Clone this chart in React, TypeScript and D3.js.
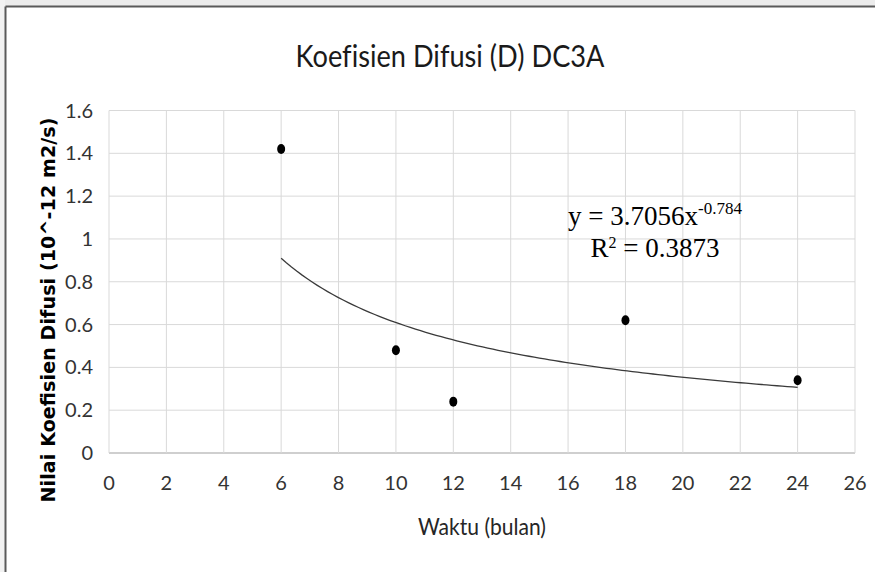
import React from 'react';
import * as d3 from 'd3';

// data
const waktu = [6, 10, 12, 18, 24];
const koefisien = [1.42, 0.48, 0.24, 0.62, 0.34];
const xTicks = [0, 2, 4, 6, 8, 10, 12, 14, 16, 18, 20, 22, 24, 26];
const yTicks = [0, 0.2, 0.4, 0.6, 0.8, 1, 1.2, 1.4, 1.6];
// power trendline y = a * x^b
const trendA = 3.7056;
const trendB = -0.784;
const trendR2 = 0.3873;

const W = 875;
const H = 572;
const plot = { left: 109, right: 855, top: 110.5, bottom: 453 };

const labelFont = 'Lato, "Open Sans", sans-serif';
const serifFont = '"Liberation Serif", "Times New Roman", serif';

const App = () => {
    const x = d3.scaleLinear().domain([0, 26]).range([plot.left, plot.right]);
    const y = d3.scaleLinear().domain([0, 1.6]).range([plot.bottom, plot.top]);

    // trendline from first to last x value
    const [x0, x1] = d3.extent(waktu) as [number, number];
    const trendPts = d3.range(0, 101).map(i => {
        const xv = x0 + ((x1 - x0) * i) / 100;
        return [xv, trendA * Math.pow(xv, trendB)] as [number, number];
    });
    const line = d3
        .line<[number, number]>()
        .x(d => x(d[0]))
        .y(d => y(d[1]));

    return (
        <svg
            width={W}
            height={H}
            style={{ position: 'fixed', left: 0, top: 0, background: '#fff' }}
        >
            {/* faded strip outside the chart frame */}
            <rect x={0} y={0} width={W} height={6} fill="#ececec" />
            <rect x={0} y={0} width={5} height={H} fill="#f2f2f2" />
            <line x1={5.5} y1={6.5} x2={W} y2={6.5} stroke="#5a5a5a" strokeWidth={2} />
            <line x1={5.5} y1={6.5} x2={5.5} y2={H} stroke="#5a5a5a" strokeWidth={2} />

            <text
                x={450}
                y={67}
                textAnchor="middle"
                fontFamily={labelFont}
                fontSize={31}
                textLength={309}
                lengthAdjust="spacingAndGlyphs"
                style={{ fontVariantLigatures: 'none' }}
                fill="#1a1a1a"
            >
                Koefisien Difusi (D) DC3A
            </text>

            {/* gridlines */}
            {yTicks.map(t => (
                <line
                    key={'gy' + t}
                    x1={plot.left}
                    x2={plot.right}
                    y1={y(t)}
                    y2={y(t)}
                    stroke={t === 0 ? '#bfbfbf' : '#d9d9d9'}
                    strokeWidth={t === 0 ? 1.5 : 1}
                />
            ))}
            {xTicks.map(t => (
                <line
                    key={'gx' + t}
                    x1={x(t)}
                    x2={x(t)}
                    y1={plot.top}
                    y2={plot.bottom}
                    stroke="#d9d9d9"
                    strokeWidth={1}
                />
            ))}

            {/* tick labels */}
            {yTicks.map(t => (
                <text
                    key={'ly' + t}
                    x={93}
                    y={y(t)}
                    dy="0.35em"
                    textAnchor="end"
                    fontFamily={labelFont}
                    fontSize={20}
                    fill="#333"
                >
                    {d3.format('~g')(t)}
                </text>
            ))}
            {xTicks.map(t => (
                <text
                    key={'lx' + t}
                    x={x(t)}
                    y={490}
                    textAnchor="middle"
                    fontFamily={labelFont}
                    fontSize={20}
                    fill="#333"
                >
                    {t}
                </text>
            ))}

            {/* axis titles */}
            <text
                x={482}
                y={535}
                textAnchor="middle"
                fontFamily={labelFont}
                fontSize={24}
                textLength={128}
                lengthAdjust="spacingAndGlyphs"
                fill="#262626"
            >
                Waktu (bulan)
            </text>
            <text
                transform="translate(55,310) rotate(-90)"
                textAnchor="middle"
                fontFamily='"DejaVu Sans", Verdana, sans-serif'
                fontWeight="bold"
                fontSize={19}
                textLength={385}
                fill="#000"
            >
                Nilai Koefisien Difusi (10^-12 m2/s)
            </text>

            {/* trendline */}
            <path d={line(trendPts) || ''} fill="none" stroke="#3a3a3a" strokeWidth={1.3} />

            {/* points */}
            {waktu.map((w, i) => (
                <ellipse key={'p' + i} cx={x(w)} cy={y(koefisien[i])} rx={4} ry={5} fill="#000" />
            ))}

            {/* trendline equation */}
            <text x={655} y={225} textAnchor="middle" fontFamily={serifFont} fontSize={27} fill="#000">
                y = {trendA}x
                <tspan fontSize={17} dy={-11}>
                    {trendB}
                </tspan>
            </text>
            <text x={655} y={257} textAnchor="middle" fontFamily={serifFont} fontSize={27} fill="#000">
                R<tspan fontSize={16} dy={-9}>2</tspan>
                <tspan dy={9}> = {trendR2}</tspan>
            </text>
        </svg>
    );
};

export default App;
